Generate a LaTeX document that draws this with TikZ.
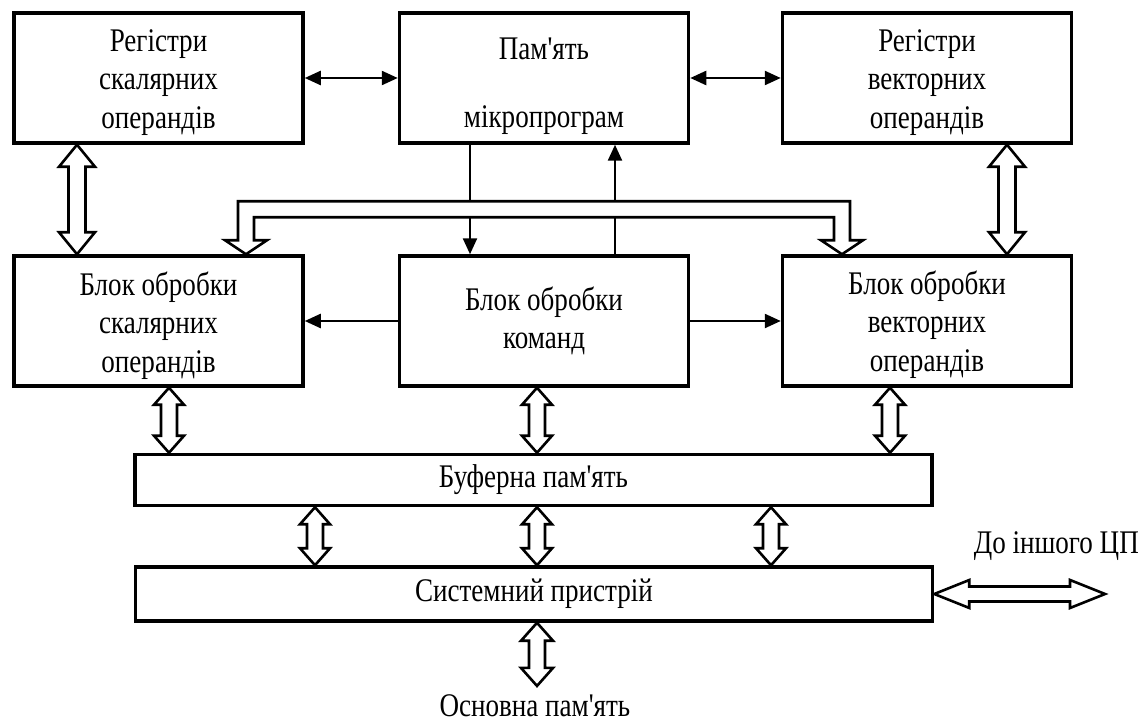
\documentclass[tikz,border=0pt]{standalone}
\usepackage{fontspec}
\setmainfont{Liberation Serif}[Ligatures=TeXOff, FakeStretch=0.82]
\usetikzlibrary{arrows.meta,calc}
\newcommand\vdarrow[5]{%
  \path[hollow] let \p1=(#1), \p2=(#2) in
   (\x1,\y1) -- (\x1+#3,\y1-#5) -- (\x1+#4,\y1-#5) -- (\x1+#4,\y2+#5) -- (\x1+#3,\y2+#5)
   -- (\x1,\y2) -- (\x1-#3,\y2+#5) -- (\x1-#4,\y2+#5) -- (\x1-#4,\y1-#5) -- (\x1-#3,\y1-#5) -- cycle;}
\newcommand\hdarrow[5]{%
  \path[hollow] let \p1=(#1), \p2=(#2) in
   (\x1,\y1) -- (\x1+#5,\y1+#3) -- (\x1+#5,\y1+#4) -- (\x2-#5,\y1+#4) -- (\x2-#5,\y1+#3)
   -- (\x2,\y1) -- (\x2-#5,\y1-#3) -- (\x2-#5,\y1-#4) -- (\x1+#5,\y1-#4) -- (\x1+#5,\y1-#3) -- cycle;}
\begin{document}
\begin{tikzpicture}[x=1pt,y=-1pt,
  txt/.style={font=\fontsize{33}{38.5}\selectfont, align=center, inner sep=0pt},
  box/.style={txt, draw, line width=3.5pt, minimum height=130pt},
  bigbox/.style={box, minimum width=289pt},
  wide/.style={box, minimum width=797pt},
  hollow/.style={draw, line width=2.6pt, fill=white, line join=miter},
  arr/.style={line width=2.4pt, >={Triangle[length=16pt,width=14pt]}}]
\useasboundingbox (0,0) rectangle (1143,722);
% boxes
\node[bigbox] (tl) at (158.5,78) {\rule{0pt}{31pt}Регістри\\скалярних\\операндів};
\node[bigbox] (tm) at (544,78) {\rule{0pt}{38pt}Пам'ять\\[29pt]мікропрограм};
\node[bigbox] (tr) at (927,78) {\rule{0pt}{31pt}Регістри\\векторних\\операндів};
\node[bigbox] (ml) at (158.5,321) {\rule{0pt}{33pt}Блок обробки\\скалярних\\операндів};
\node[bigbox] (mc) at (544,321) {Блок обробки\\команд};
\node[bigbox] (mr) at (927,321) {\rule{0pt}{31pt}Блок обробки\\векторних\\операндів};
\node[wide, minimum height=51pt] (buf) at (533.5,480) {Буферна пам'ять};
\node[wide, minimum height=54pt] (sys) at (534,594) {Системний пристрій};
\node[txt, outer ysep=9pt] (mem) at (535,706) {Основна пам'ять};
\node[txt, anchor=base east] (cpu) at (1139,553) {До іншого ЦП};
\coordinate (cpuend) at (1105,594);
% thin arrows
\draw[arr,<->] (tl.east) -- (tm.west);
\draw[arr,<->] (tm.east) -- (tr.west);
\draw[arr,->] (470,0 |- tm.south) -- (470,0 |- mc.north);
\draw[arr,->] (615,0 |- mc.north) -- (615,0 |- tm.south);
\draw[arr,->] (mc.west) -- (ml.east);
\draw[arr,->] (mc.east) -- (mr.west);
% vertical hollow arrows
\vdarrow{77,0 |- tl.south}{77,0 |- ml.north}{18pt}{8.5pt}{22pt}
\vdarrow{1007,0 |- tr.south}{1007,0 |- mr.north}{18pt}{8.5pt}{22pt}
\vdarrow{169,0 |- ml.south}{169,0 |- buf.north}{15pt}{8pt}{17pt}
\vdarrow{537,0 |- mc.south}{537,0 |- buf.north}{15pt}{8pt}{17pt}
\vdarrow{890,0 |- mr.south}{890,0 |- buf.north}{15pt}{8pt}{17pt}
\vdarrow{315,0 |- buf.south}{315,0 |- sys.north}{15pt}{8pt}{17pt}
\vdarrow{537,0 |- buf.south}{537,0 |- sys.north}{15pt}{8pt}{17pt}
\vdarrow{771,0 |- buf.south}{771,0 |- sys.north}{15pt}{8pt}{17pt}
\vdarrow{537,0 |- sys.south}{537,0 |- mem.north}{16pt}{8pt}{18pt}
% horizontal hollow arrow
\hdarrow{sys.east}{cpuend}{14pt}{7.5pt}{35pt}
% bus
\path[hollow] let \p1=(246,0 |- ml.north), \p2=(842,0 |- mr.north) in
  (\x1-8pt,\y1+14pt) -- (\x1-8pt,\y1+53pt) -- (\x2+8pt,\y1+53pt) -- (\x2+8pt,\y2+14pt)
  -- (\x2+21pt,\y2+14pt) -- (\x2,\y2) -- (\x2-21pt,\y2+14pt) -- (\x2-8pt,\y2+14pt)
  -- (\x2-8pt,\y1+37pt) -- (\x1+8pt,\y1+37pt) -- (\x1+8pt,\y1+14pt) -- (\x1+21pt,\y1+14pt)
  -- (\x1,\y1) -- (\x1-21pt,\y1+14pt) -- cycle;
\end{tikzpicture}
\end{document}
